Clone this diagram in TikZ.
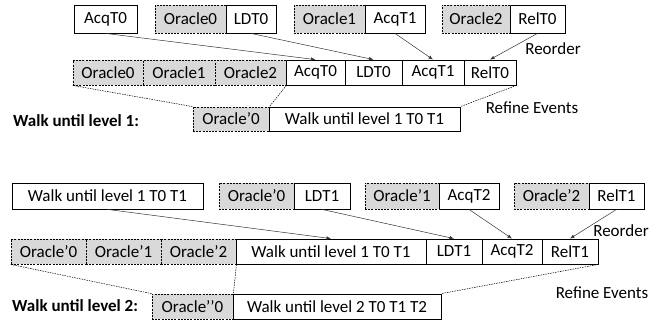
\documentclass[tikz,border=0pt]{standalone}
\usepackage{fontspec}
\setmainfont{Carlito}
\usetikzlibrary{arrows.meta}
\definecolor{oraclegray}{HTML}{D9D9D9}
\newcommand{\cell}[7]{\node[#2, minimum width={(#4)-(#3)}, minimum height={(#6)-(#5)}] (#1) at ({((#3)+(#4))/2},{((#5)+(#6))/2}) {#7};}
\tikzset{
  evbox/.style={draw=black, line width=0.8pt, fill=white, inner sep=0pt},
  orbox/.style={preaction={draw=white, line width=0.9pt}, fill=oraclegray, draw=black, line width=0.8pt, dash pattern=on 2pt off 1.2pt, inner sep=0pt},
  mv/.style={draw=black!80, line width=0.5pt, -{Latex[length=4.5pt,width=3.5pt]}},
  refine/.style={draw=black, line width=0.5pt, dash pattern=on 1.5pt off 1pt},
  lbl/.style={inner sep=0pt},
}
\begin{document}
\begin{tikzpicture}[x=1pt,y=-1pt, every node/.style={font=\fontsize{17}{20}\selectfont}]
\useasboundingbox (0,0) rectangle (664,324);
% ---- Section 1: top row
\cell{t1a}{evbox}{74}{137}{5}{33}{AcqT0}
\cell{t1l}{evbox}{226}{276}{5}{33}{LDT0}
\cell{t1q}{evbox}{365}{425}{5}{33}{AcqT1}
\cell{t1r}{evbox}{510}{565}{5}{33}{RelT0}
\cell{t1o0}{orbox}{155}{226}{5}{33}{Oracle0}
\cell{t1o1}{orbox}{294}{365}{5}{33}{Oracle1}
\cell{t1o2}{orbox}{442}{510}{5}{33}{Oracle2}
% middle row
\cell{m1a}{evbox}{286}{345}{60}{85}{AcqT0}
\cell{m1l}{evbox}{345}{402}{60}{85}{LDT0}
\cell{m1q}{evbox}{402}{464}{60}{85}{AcqT1}
\cell{m1r}{evbox}{464}{516}{60}{85}{RelT0}
\cell{m1o0}{orbox}{73}{143}{60}{85}{Oracle0}
\cell{m1o1}{orbox}{143}{215}{60}{85}{Oracle1}
\cell{m1o2}{orbox}{215}{286}{60}{85}{Oracle2}
% bottom row
\cell{b1w}{evbox}{269}{460}{107}{131}{Walk until level 1 T0 T1}
\cell{b1o}{orbox}{193}{269}{107}{131}{Oracle’0}
\node[lbl, anchor=west, font=\fontsize{17}{20}\selectfont\bfseries] (lev1) at (13,121) {Walk until level 1:};
\node[lbl] (reo1) at (553,49) {Reorder};
\node[lbl] (ref1) at (532,108) {Refine Events};
% connectors
\draw[mv] (t1a.south) -- (m1a.north);
\draw[mv] (t1l.south) -- (m1l.north);
\draw[mv] (t1q.south) -- (m1q.north);
\draw[mv] (t1r.south) -- (m1r.north);
\draw[refine] (m1o0.south west) -- (b1o.north west);
\draw[refine] (m1o2.south east) -- (b1o.north east);
\draw[refine] (m1r.south east) -- (b1w.north east);
% ---- Section 2: top row
\cell{t2w}{evbox}{12}{203}{183}{209}{Walk until level 1 T0 T1}
\cell{t2l}{evbox}{294}{350}{183}{209}{LDT1}
\cell{t2q}{evbox}{439}{499}{183}{209}{AcqT2}
\cell{t2r}{evbox}{589}{644}{183}{209}{RelT1}
\cell{t2o0}{orbox}{219}{294}{183}{209}{Oracle’0}
\cell{t2o1}{orbox}{365}{439}{183}{209}{Oracle’1}
\cell{t2o2}{orbox}{514}{589}{183}{209}{Oracle’2}
% middle row
\cell{m2w}{evbox}{236}{426}{239}{264}{Walk until level 1 T0 T1}
\cell{m2l}{evbox}{426}{482}{239}{264}{LDT1}
\cell{m2q}{evbox}{482}{542}{239}{264}{AcqT2}
\cell{m2r}{evbox}{542}{598}{239}{264}{RelT1}
\cell{m2o0}{orbox}{11}{86}{239}{264}{Oracle’0}
\cell{m2o1}{orbox}{86}{161}{239}{264}{Oracle’1}
\cell{m2o2}{orbox}{161}{236}{239}{264}{Oracle’2}
% bottom row
\cell{b2w}{evbox}{233}{441}{294}{319}{Walk until level 2 T0 T1 T2}
\cell{b2o}{orbox}{152}{233}{294}{319}{Oracle’’0}
\node[lbl, anchor=west, font=\fontsize{17}{20}\selectfont\bfseries] (lev2) at (12,306) {Walk until level 2:};
\node[lbl] (reo2) at (621,231) {Reorder};
\node[lbl] (ref2) at (602,293) {Refine Events};
% connectors
\draw[mv] (t2w.south) -- (m2w.north);
\draw[mv] (t2l.south) -- (m2l.north);
\draw[mv] (t2q.south) -- (m2q.north);
\draw[mv] (t2r.south) -- (m2r.north);
\draw[refine] (m2o0.south west) -- (b2o.north west);
\draw[refine] (m2o2.south east) -- (b2o.north east);
\draw[refine] (m2r.south east) -- (b2w.north east);
\end{tikzpicture}
\end{document}
